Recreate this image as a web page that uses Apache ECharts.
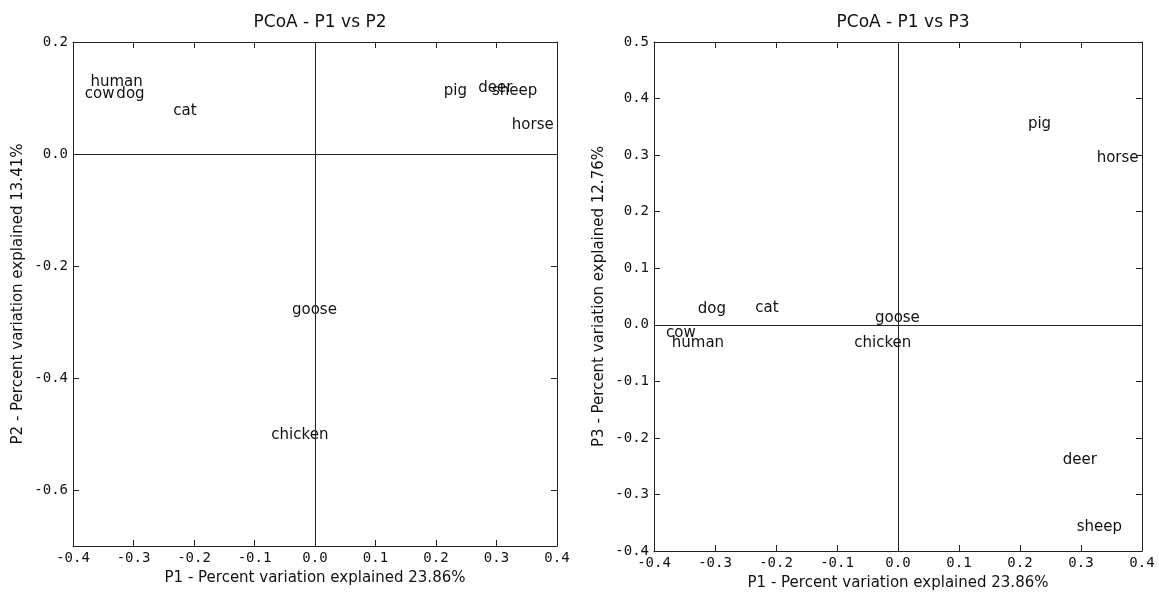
<!DOCTYPE html>
<html>
<head>
<meta charset="utf-8">
<script src="https://cdn.jsdelivr.net/npm/echarts@6/dist/echarts.min.js"></script>
<style>
html,body{margin:0;padding:0;background:#fff;}
#chart{width:1159px;height:596px;}
</style>
</head>
<body>
<div id="chart"></div>
<script>
const names = ['human','cow','dog','cat','pig','deer','sheep','horse','goose','chicken'];
const p1 = [-0.328,-0.356,-0.305,-0.215,0.232,0.298,0.330,0.360,-0.001,-0.025];
const p2 = [0.129,0.107,0.107,0.077,0.112,0.118,0.112,0.052,-0.279,-0.502];
const p3 = [-0.032,-0.014,0.027,0.030,0.355,-0.239,-0.358,0.294,0.012,-0.032];
const xTicks = [-0.4,-0.3,-0.2,-0.1,0.0,0.1,0.2,0.3,0.4];
const p2Ticks = [0.2,0.0,-0.2,-0.4,-0.6];
const p3Ticks = [0.5,0.4,0.3,0.2,0.1,0.0,-0.1,-0.2,-0.3,-0.4];
const titles = ['PCoA - P1 vs P2','PCoA - P1 vs P3'];
const xName = 'P1 - Percent variation explained 23.86%';
const yNames = ['P2 - Percent variation explained 13.41%','P3 - Percent variation explained 12.76%'];

const FONT = 'DejaVu Sans';
const NUMFONT = 'DejaVu Sans Mono';
const TXT = '#111';

function axis(gridIndex, position, min, max, ticks, name, showLabel, nameGap) {
  return {
    type: 'value', gridIndex, position, min, max, interval: 0.1,
    name: showLabel ? name : '', nameLocation: 'middle', nameGap: nameGap || 30,
    nameTextStyle: {fontFamily: FONT, fontSize: 15, color: TXT},
    axisLine: {show: true, onZero: false, lineStyle: {color: '#222', width: 1}},
    axisTick: {show: true, inside: true, length: 6, customValues: ticks, lineStyle: {color: '#222', width: 1}},
    axisLabel: {show: showLabel, customValues: ticks, fontFamily: NUMFONT, fontSize: 14, color: TXT, margin: 5,
      formatter: v => (Math.abs(v) < 1e-9 ? 0 : v).toFixed(1)},
    splitLine: {show: false}
  };
}

function series(i, ys) {
  return {
    type: 'scatter', xAxisIndex: i*2, yAxisIndex: i*2, symbolSize: 1,
    itemStyle: {color: 'rgba(0,0,0,0)'}, silent: true, emphasis: {disabled: true},
    label: {show: true, position: 'inside', formatter: '{b}', fontFamily: FONT, fontSize: 15,
      color: TXT, textBorderWidth: 0, textBorderColor: 'transparent', opacity: 1},
    data: names.map((n, k) => ({name: n, value: [p1[k], ys[k]]})),
    markLine: {silent: true, symbol: ['none','none'], label: {show: false},
      lineStyle: {color: '#222', width: 1, type: 'solid'},
      emphasis: {disabled: true},
      data: [{xAxis: 0}, {yAxis: 0}]}
  };
}

const chart = echarts.init(document.getElementById('chart'), null, {renderer: 'canvas'});
chart.setOption({
  animation: false,
  backgroundColor: '#fff',
  title: [
    {text: titles[0], left: 315, top: 9, textAlign: 'center', textStyle: {fontFamily: FONT, fontSize: 17, fontWeight: 'normal', color: TXT}},
    {text: titles[1], left: 898, top: 9, textAlign: 'center', textStyle: {fontFamily: FONT, fontSize: 17, fontWeight: 'normal', color: TXT}}
  ],
  grid: [
    {left: 73, top: 42, width: 484, height: 504},
    {left: 654, top: 42, width: 488, height: 510}
  ],
  xAxis: [
    axis(0, 'bottom', -0.4, 0.4, xTicks, xName, true, 25),
    axis(0, 'top', -0.4, 0.4, xTicks, '', false),
    axis(1, 'bottom', -0.4, 0.4, xTicks, xName, true, 25),
    axis(1, 'top', -0.4, 0.4, xTicks, '', false)
  ],
  yAxis: [
    axis(0, 'left', -0.7, 0.2, p2Ticks, yNames[0], true, 47),
    axis(0, 'right', -0.7, 0.2, p2Ticks, '', false),
    axis(1, 'left', -0.4, 0.5, p3Ticks, yNames[1], true, 47),
    axis(1, 'right', -0.4, 0.5, p3Ticks, '', false)
  ],
  series: [series(0, p2), series(1, p3)]
});
</script>
</body>
</html>
